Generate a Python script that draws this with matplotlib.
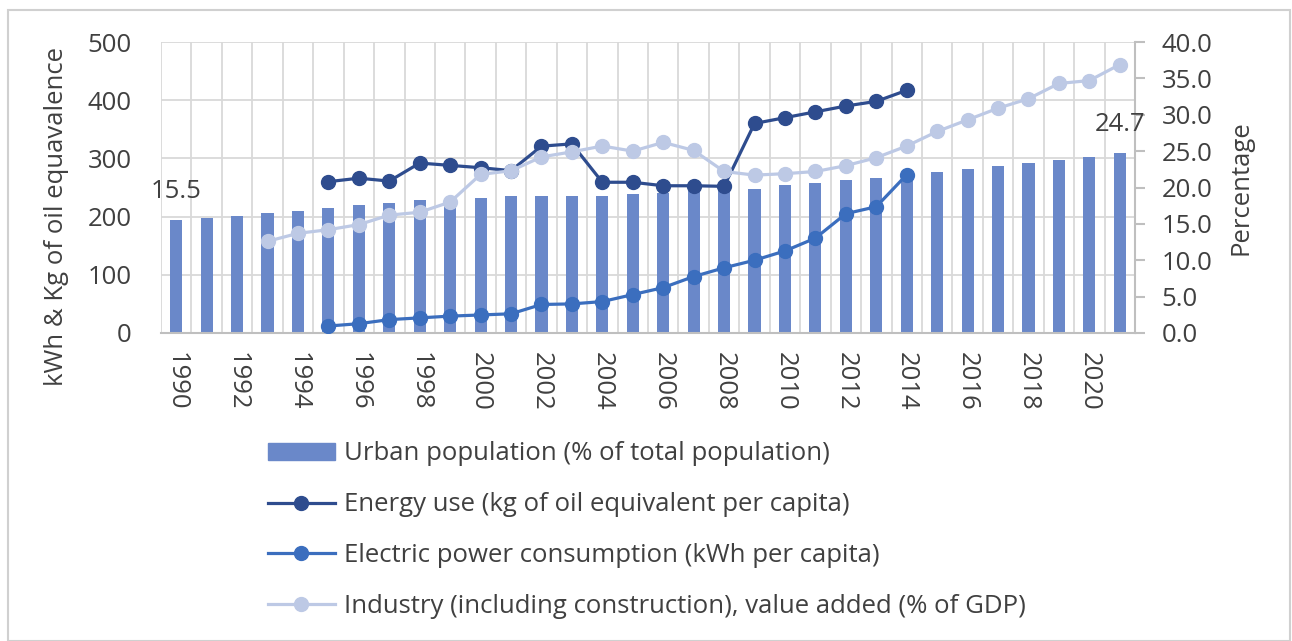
import matplotlib.pyplot as plt
from matplotlib.patches import Rectangle
from matplotlib.lines import Line2D

plt.rcParams['font.family'] = ['Open Sans', 'DejaVu Sans']

# --- data ---
years = list(range(1990, 2022))
urban_pct = [15.5, 15.8, 16.1, 16.5, 16.8, 17.2, 17.6, 17.9, 18.3, 18.4, 18.5, 18.8,
             18.8, 18.9, 18.9, 19.1, 19.3, 19.5, 19.6, 19.8, 20.3, 20.6, 21.0, 21.3,
             21.6, 22.1, 22.5, 23.0, 23.4, 23.8, 24.2, 24.7]

energy_years = list(range(1995, 2015))
energy_use = [260, 266, 261, 292, 288, 284, 279, 321, 325, 259, 259, 253, 253, 252,
              360, 370, 380, 390, 398, 417]

elec_years = list(range(1995, 2015))
elec_use = [12, 16, 23, 26, 29, 31, 33, 49, 50, 54, 66, 78, 97, 112, 125, 141, 163,
            205, 217, 272]

industry_years = list(range(1993, 2022))
industry_pct = [12.6, 13.7, 14.2, 14.9, 16.2, 16.6, 18.0, 21.8, 22.3, 24.2, 24.9, 25.7,
                25.0, 26.2, 25.1, 22.2, 21.7, 21.9, 22.2, 23.0, 24.1, 25.7, 27.7, 29.3,
                30.9, 32.2, 34.3, 34.7, 36.9]

tick_years = list(range(1990, 2021, 2))
left_ticks = [0, 100, 200, 300, 400, 500]
right_ticks = [0, 5, 10, 15, 20, 25, 30, 35, 40]

labels = ['Urban population (% of total population)',
          'Energy use (kg of oil equivalent per capita)',
          'Electric power consumption (kWh per capita)',
          'Industry (including construction), value added (% of GDP)']

c_bar = '#6a88c9'
c_energy = '#2e4c8e'
c_elec = '#3b6ebe'
c_ind = '#bdc9e5'
c_grid = '#d9d9d9'
c_text = '#404040'
fs = 18.5

W, H = 1292, 641
fig = plt.figure(figsize=(W / 100, H / 100), dpi=100)

# light frame around the picture
fig.patches.append(Rectangle((8 / W, 0), (1290 - 8) / W, 1 - 10 / H,
                             transform=fig.transFigure, fill=False,
                             edgecolor='#d0d0d0', linewidth=1.5))

rect = [161 / W, 1 - 333 / H, (1135 - 161) / W, (333 - 42) / H]
ax = fig.add_axes(rect)          # left scale (kWh / kg)
axb = ax.twinx()                 # right scale, bars (bottom layer)
axi = ax.twinx()                 # right scale, industry line (top layer)

axb.set_zorder(0)
ax.set_zorder(1)
axi.set_zorder(2)
ax.patch.set_visible(False)
axi.patch.set_visible(False)

for a in (ax, axb, axi):
    for s in a.spines.values():
        s.set_visible(False)
ax.set_xlim(1989.5, 2021.5)
ax.set_ylim(0, 500)
axb.set_ylim(0, 40)
axi.set_ylim(0, 40)

# gridlines (category boundaries + left-axis steps), bottom layer
for b in range(1989, 2022):
    axb.axvline(b + 0.5, color=c_grid, linewidth=1.3, zorder=0)
for v in left_ticks:
    axb.axhline(v * 40 / 500, color=c_grid, linewidth=1.3, zorder=0)

axb.bar(years, urban_pct, width=0.4, color=c_bar, zorder=2)
axb.annotate('15.5', (years[0], urban_pct[0]), xytext=(0, 21), textcoords='offset points',
             ha='center', va='center', fontsize=fs, color=c_text)
axb.annotate('24.7', (years[-1], urban_pct[-1]), xytext=(0, 21), textcoords='offset points',
             ha='center', va='center', fontsize=fs, color=c_text)

ax.plot(energy_years, energy_use, color=c_energy, lw=2.3, marker='o', ms=10)
ax.plot(elec_years, elec_use, color=c_elec, lw=2.3, marker='o', ms=10)
axi.plot(industry_years, industry_pct, color=c_ind, lw=2.3, marker='o', ms=10)

# axis lines
for side in ('bottom', 'right'):
    axb.spines[side].set_visible(True)
    axb.spines[side].set_color('#bfbfbf')
    axb.spines[side].set_linewidth(1.5)

# ticks
ax.set_yticks(left_ticks)
ax.tick_params(axis='y', length=0, pad=21, labelsize=fs, labelcolor=c_text)
axb.set_yticks(right_ticks)
axb.set_yticklabels([f'{v:.1f}' for v in right_ticks])
axb.tick_params(axis='y', length=7, width=1.5, color='#bfbfbf', pad=12,
                labelsize=fs, labelcolor=c_text)
axi.set_yticks([])
ax.set_xticks(tick_years)
ax.set_xticklabels([str(y) for y in tick_years], rotation=-90)
ax.tick_params(axis='x', length=0, pad=14, labelsize=fs, labelcolor=c_text)

ax.set_ylabel('kWh & Kg of oil equavalence', fontsize=fs, color=c_text)
ax.yaxis.set_label_coords(-92 / 974, 0.40)
axb.set_ylabel('Percentage', fontsize=fs, color=c_text, rotation=90)
axb.yaxis.set_label_coords(1 + 93 / 974, 0.5)

handles = [Rectangle((0, 0), 1, 1, color=c_bar),
           Line2D([], [], color=c_energy, lw=2.3, marker='o', ms=10),
           Line2D([], [], color=c_elec, lw=2.3, marker='o', ms=10),
           Line2D([], [], color=c_ind, lw=2.3, marker='o', ms=10)]
fig.legend(handles, labels, loc='center left', bbox_to_anchor=(268 / W, 1 - 530 / H),
           frameon=False, fontsize=fs, labelcolor=c_text, handlelength=2.6,
           handleheight=0.6, handletextpad=0.35, labelspacing=1.0, borderpad=0,
           borderaxespad=0)

plt.savefig('out.png', dpi=100)
